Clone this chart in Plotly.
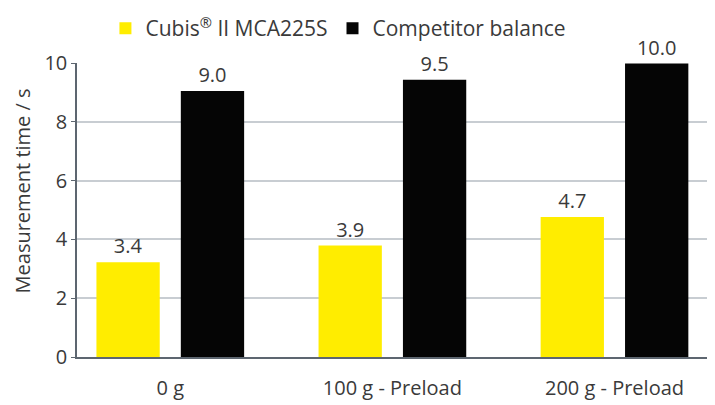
import plotly.graph_objects as go

categories = ["0 g", "100 g - Preload", "200 g - Preload"]
cubis_values = [3.22, 3.79, 4.76]
cubis_labels = ["3.4", "3.9", "4.7"]
competitor_values = [9.05, 9.43, 9.98]
competitor_labels = ["9.0", "9.5", "10.0"]
y_ticks = [0, 2, 4, 6, 8, 10]

FONT = "Open Sans"
TXT = "#3a3a3a"

fig = go.Figure()
fig.add_trace(go.Bar(
    name="Cubis<sup>®</sup> II MCA225S", x=categories, y=cubis_values,
    marker=dict(color="#ffed00", line=dict(width=0)),
    text=cubis_labels, textposition="outside",
    textfont=dict(size=20, color=TXT, family=FONT), cliponaxis=False,
))
fig.add_trace(go.Bar(
    name="Competitor balance", x=categories, y=competitor_values,
    marker=dict(color="#050505", line=dict(width=0)),
    text=competitor_labels, textposition="outside",
    textfont=dict(size=20, color=TXT, family=FONT), cliponaxis=False,
))

fig.update_layout(
    width=715, height=405,
    margin=dict(l=69, r=13, t=55, b=56, autoexpand=False),
    paper_bgcolor="white", plot_bgcolor="white",
    font=dict(family=FONT, size=20, color=TXT),
    barmode="group", bargap=0.24, bargroupgap=0.25,
    showlegend=True,
    legend=dict(orientation="h", x=0.413, xanchor="center",
                yref="container", y=1.0, yanchor="top",
                font=dict(size=21, color=TXT, family=FONT),
                itemwidth=30, tracegroupgap=0),
    annotations=[dict(
        text="Measurement time / s", textangle=-90,
        xref="paper", yref="paper", x=-0.086, y=0.565,
        xanchor="center", yanchor="middle", showarrow=False,
        font=dict(size=20, color=TXT, family=FONT),
    )],
)
fig.update_xaxes(
    type="category", range=[-0.42, 2.43],
    showline=True, linecolor="#5d6670", linewidth=1.5,
    ticks="", tickfont=dict(size=20, color=TXT), showgrid=False,
    ticklabelstandoff=12,
)
fig.update_yaxes(
    range=[0, 10], tickvals=y_ticks,
    showgrid=True, gridcolor="#c8cdd2", gridwidth=1.5,
    showline=True, linecolor="#5d6670", linewidth=1.5,
    ticks="outside", ticklen=4, tickcolor="#5d6670",
    tickfont=dict(size=20, color=TXT),
    zeroline=False,
)
fig.write_html("out.html")
